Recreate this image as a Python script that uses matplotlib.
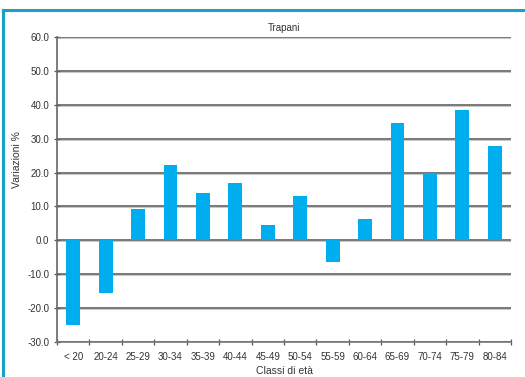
import matplotlib
matplotlib.use("Agg")
import matplotlib.pyplot as plt
from matplotlib.lines import Line2D
import numpy as np

plt.rcParams['font.family'] = ['Liberation Sans', 'DejaVu Sans']

categories = ["< 20", "20-24", "25-29", "30-34", "35-39", "40-44", "45-49",
              "50-54", "55-59", "60-64", "65-69", "70-74", "75-79", "80-84"]
variazioni = [-25.0, -15.6, 9.1, 22.1, 13.9, 16.8, 4.4,
              13.0, -6.4, 6.2, 34.5, 19.9, 38.6, 27.7]
y_ticks = [-30, -20, -10, 0, 10, 20, 30, 40, 50, 60]

W, H = 525, 377
fig = plt.figure(figsize=(W / 100, H / 100), dpi=100)
ax = fig.add_axes([57 / W, 1 - 342 / H, (511 - 57) / W, (342 - 37) / H])

x = np.arange(len(categories))
ax.bar(x, variazioni, width=0.43, color="#00AEEF", zorder=3)

ax.set_xlim(-0.5, len(categories) - 0.5)
ax.set_ylim(-30, 60)
ax.set_yticks(y_ticks)
ax.set_yticklabels([f"{v:.1f}" for v in y_ticks], fontsize=7, color="#333333")

# category labels centred, ticks on category boundaries
ax.set_xticks(x)
ax.set_xticklabels(categories, fontsize=7, color="#333333")
ax.tick_params(axis='x', which='major', length=0, pad=7)
ax.set_xticks(np.arange(-0.5, len(categories)), minor=True)
ax.tick_params(axis='x', which='minor', direction='inout', length=5,
               width=0.9, color="#555555")
ax.tick_params(axis='y', direction='inout', length=5, width=0.9,
               color="#555555", pad=3)

for v in y_ticks:
    ax.axhline(v, color="#c8c8c8", lw=2.2, zorder=1)
    ax.axhline(v, color="#666666", lw=1.1, zorder=2)

for s in ["top", "right"]:
    ax.spines[s].set_visible(False)
ax.spines["left"].set_color("#666666")
ax.spines["left"].set_linewidth(1.2)
ax.spines["bottom"].set_color("#777777")
ax.spines["bottom"].set_linewidth(1.2)

ax.set_title("Trapani", fontsize=7, color="#333333", pad=4)
ax.set_xlabel("Classi di età", fontsize=7.5, color="#333333", labelpad=3)
ax.set_ylabel("Variazioni %", fontsize=7.5, color="#333333")
ax.yaxis.set_label_coords(-0.078, (342 - 160) / (342 - 37))

# frame border on the left and top edge
fig.add_artist(Line2D([3 / W, 3 / W], [0, 1 - 10 / H], transform=fig.transFigure,
                      color="#1A9FC8", lw=2.2))
fig.add_artist(Line2D([3 / W, 1], [1 - 10 / H, 1 - 10 / H], transform=fig.transFigure,
                      color="#1A9FC8", lw=2.2))

fig.savefig("out.png", dpi=100)
